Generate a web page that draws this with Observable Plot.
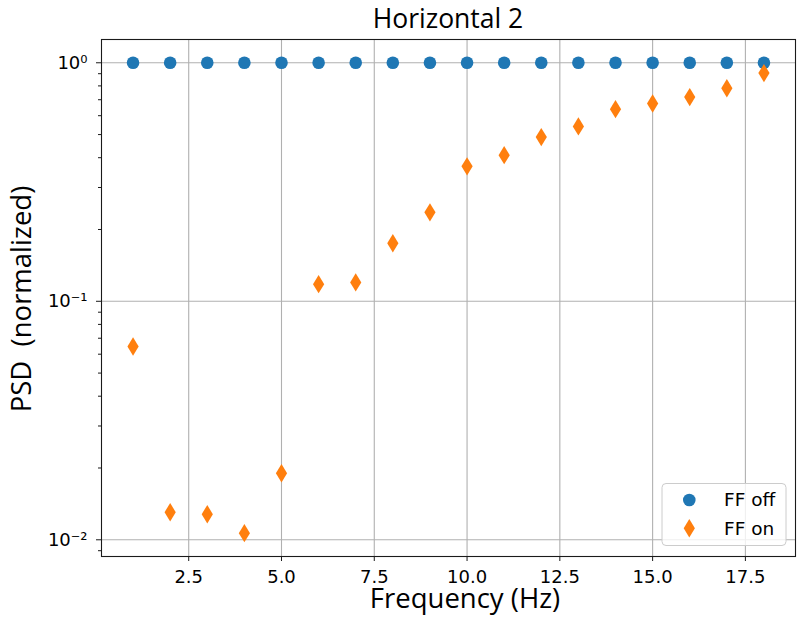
<!DOCTYPE html>
<html>
<head>
<meta charset="utf-8">
<script src="https://cdn.jsdelivr.net/npm/d3@7"></script>
<script src="https://cdn.jsdelivr.net/npm/@observablehq/plot@0.6"></script>
<style>
  html, body { margin: 0; padding: 0; background: #fff; }
  #chart { width: 803px; height: 630px; }
</style>
</head>
<body>
<div id="chart"></div>
<script>
const frequency = [1, 2, 3, 4, 5, 6, 7, 8, 9, 10, 11, 12, 13, 14, 15, 16, 17, 18];
const ffOff = [1, 1, 1, 1, 1, 1, 1, 1, 1, 1, 1, 1, 1, 1, 1, 1, 1, 1];
const ffOn = [0.0646, 0.01305, 0.0128, 0.01066, 0.0190, 0.118, 0.120, 0.175, 0.236, 0.368, 0.410, 0.488, 0.541, 0.639, 0.675, 0.718, 0.782, 0.905];
const xTicks = [2.5, 5.0, 7.5, 10.0, 12.5, 15.0, 17.5];
const yTicks = [0.01, 0.1, 1];
const yTickLabels = ["10\u207B\u00B2", "10\u207B\u00B9", "10\u2070"];
const yMinorTicks = [0.009, 0.02, 0.03, 0.04, 0.05, 0.06, 0.07, 0.08, 0.09, 0.2, 0.3, 0.4, 0.5, 0.6, 0.7, 0.8, 0.9];
const seriesNames = ["FF off", "FF on"];
const titleText = "Horizontal 2";
const xLabel = "Frequency (Hz)";
const yLabel = "PSD  (normalized)";

const offData = frequency.map((f, i) => ({f, v: ffOff[i]}));
const onData = frequency.map((f, i) => ({f, v: ffOn[i]}));

const BLUE = "#1f77b4", ORANGE = "#ff7f0e", GRID = "#b0b0b0";
const thinDiamond = {
  draw(ctx, size) {
    const r = Math.sqrt(size / Math.PI);
    const w = 0.61 * r;
    ctx.moveTo(0, -r); ctx.lineTo(w, 0); ctx.lineTo(0, r); ctx.lineTo(-w, 0); ctx.closePath();
  }
};

const W = 803, H = 630, ML = 101, MR = 8, MT = 39, MB = 74;

const plot = Plot.plot({
  width: W, height: H,
  marginLeft: ML, marginRight: MR, marginTop: MT, marginBottom: MB,
  style: {fontFamily: "DejaVu Sans", fontSize: "18px", color: "black", background: "white"},
  x: {domain: [0.15, 18.85]},
  y: {type: "log", domain: [0.00851, 1.252]},
  marks: [
    Plot.gridX(xTicks, {stroke: GRID, strokeOpacity: 1, strokeWidth: 1.1}),
    Plot.gridY(yTicks, {stroke: GRID, strokeOpacity: 1, strokeWidth: 1.1}),
    Plot.dot(offData, {x: "f", y: "v", r: 6.3, fill: BLUE}),
    Plot.dot(onData, {x: "f", y: "v", r: 9.2, fill: ORANGE, symbol: thinDiamond}),
    Plot.frame({stroke: "#1a1a1a", strokeWidth: 1.1}),
    Plot.axisX(xTicks, {tickSize: 5, tickPadding: 9, tickFormat: d => d.toFixed(1), label: null, stroke: "#1a1a1a"}),
    Plot.axisY(yTicks, {tickSize: 5, tickPadding: 9, tickFormat: d => yTickLabels[yTicks.indexOf(d)], label: null, stroke: "#1a1a1a"}),
    Plot.axisY(yMinorTicks, {tickSize: 3, tickFormat: () => "", label: null, stroke: "#1a1a1a"})
  ]
});

document.getElementById("chart").appendChild(plot);

const svg = d3.select(plot);
const labelFont = "'Open Sans', sans-serif";

svg.append("text")
  .attr("x", (ML + W - MR) / 2).attr("y", 28.3)
  .attr("text-anchor", "middle").attr("font-family", labelFont).attr("font-size", 26.5)
  .attr("fill", "black").text(titleText);

svg.append("text")
  .attr("x", 465).attr("y", 607.7)
  .attr("text-anchor", "middle").attr("font-family", labelFont).attr("font-size", 27.5)
  .attr("fill", "black").text(xLabel);

svg.append("text")
  .attr("transform", "translate(31,299) rotate(-90)")
  .attr("text-anchor", "middle").attr("font-family", labelFont).attr("font-size", 27.5)
  .attr("fill", "black").style("white-space", "pre").text(yLabel);

// legend
const lg = svg.append("g");
lg.append("rect")
  .attr("x", 662).attr("y", 483.5).attr("width", 124).attr("height", 62).attr("rx", 4)
  .attr("fill", "white").attr("fill-opacity", 0.8).attr("stroke", "#cccccc").attr("stroke-width", 1);
lg.append("circle").attr("cx", 689.3).attr("cy", 500).attr("r", 6.3).attr("fill", BLUE);
const dp = d3.path();
thinDiamond.draw(dp, 9.2 * 9.2 * Math.PI);
lg.append("path").attr("d", dp.toString()).attr("transform", "translate(689.3,528.3)").attr("fill", ORANGE);
lg.append("text").attr("x", 724).attr("y", 506).attr("text-anchor", "start").attr("font-family", "DejaVu Sans").attr("font-size", 18.5).attr("fill", "black").text(seriesNames[0]);
lg.append("text").attr("x", 724).attr("y", 534.5).attr("text-anchor", "start").attr("font-family", "DejaVu Sans").attr("font-size", 18.5).attr("fill", "black").text(seriesNames[1]);
</script>
</body>
</html>
